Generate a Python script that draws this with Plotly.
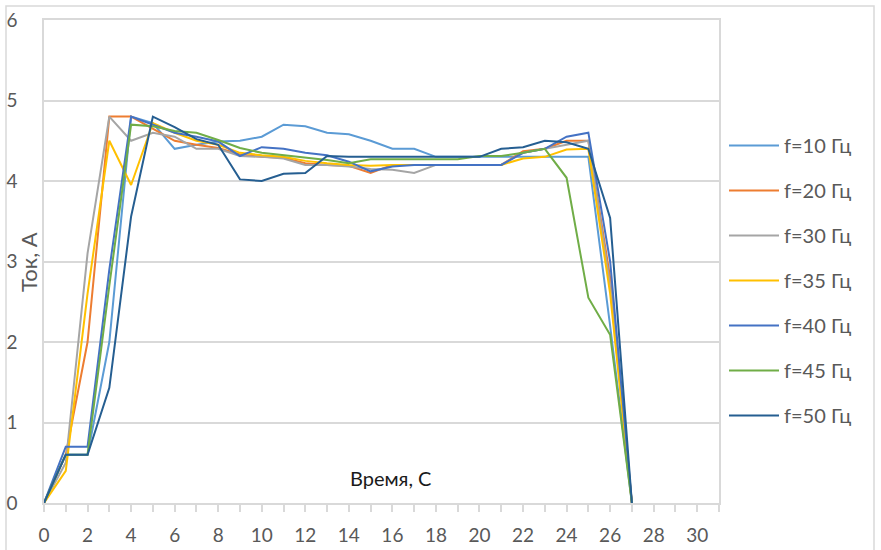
import plotly.graph_objects as go

time_s = list(range(0, 28))

f10 = [0, 0.6, 0.6, 2.0, 4.8, 4.72, 4.4, 4.45, 4.49, 4.5, 4.55, 4.7, 4.68, 4.6, 4.58, 4.5, 4.4, 4.4, 4.3, 4.3, 4.3, 4.3, 4.3, 4.3, 4.3, 4.3, 2.2, 0]
f20 = [0, 0.6, 2.0, 4.8, 4.8, 4.65, 4.5, 4.45, 4.41, 4.33, 4.3, 4.29, 4.22, 4.2, 4.19, 4.1, 4.2, 4.2, 4.2, 4.2, 4.2, 4.2, 4.37, 4.4, 4.5, 4.5, 2.8, 0]
f30 = [0, 0.5, 3.1, 4.8, 4.5, 4.6, 4.55, 4.4, 4.4, 4.31, 4.3, 4.28, 4.2, 4.2, 4.18, 4.15, 4.14, 4.1, 4.2, 4.2, 4.2, 4.2, 4.35, 4.4, 4.45, 4.5, 2.7, 0]
f35 = [0, 0.4, 2.6, 4.5, 3.95, 4.72, 4.6, 4.5, 4.45, 4.35, 4.32, 4.3, 4.25, 4.22, 4.2, 4.19, 4.2, 4.2, 4.2, 4.2, 4.2, 4.2, 4.28, 4.3, 4.39, 4.4, 2.6, 0]
f40 = [0, 0.7, 0.7, 2.9, 4.8, 4.7, 4.6, 4.55, 4.49, 4.31, 4.42, 4.4, 4.35, 4.32, 4.24, 4.12, 4.18, 4.2, 4.2, 4.2, 4.2, 4.2, 4.35, 4.4, 4.55, 4.6, 3.0, 0]
f45 = [0, 0.6, 0.6, 2.7, 4.7, 4.68, 4.62, 4.6, 4.51, 4.41, 4.35, 4.32, 4.29, 4.26, 4.22, 4.27, 4.27, 4.27, 4.27, 4.27, 4.31, 4.31, 4.35, 4.4, 4.04, 2.55, 2.09, 0]
f50 = [0, 0.6, 0.6, 1.43, 3.56, 4.8, 4.67, 4.52, 4.45, 4.02, 4.0, 4.09, 4.1, 4.31, 4.3, 4.3, 4.3, 4.3, 4.3, 4.3, 4.3, 4.4, 4.42, 4.5, 4.48, 4.4, 3.54, 0]

series_names = ["f=10 Гц", "f=20 Гц", "f=30 Гц", "f=35 Гц", "f=40 Гц", "f=45 Гц", "f=50 Гц"]
series_values = [f10, f20, f30, f35, f40, f45, f50]
colors = ["#5B9BD5", "#ED7D31", "#A5A5A5", "#FFC000", "#4472C4", "#70AD47", "#255E91"]

x_tickvals = list(range(0, 32))
x_ticktext = [str(v) if v % 2 == 0 else "" for v in x_tickvals]

FONT = "Lato"
GRID = "#D9D9D9"
TXT = "#595959"

fig = go.Figure()
for name, vals, col in zip(series_names, series_values, colors):
    fig.add_trace(go.Scatter(x=time_s, y=vals, mode="lines", name=name,
                             legendgroup=name,
                             line=dict(color=col, width=2)))

W, H = 881, 550
L, R, T, B = 44, 162, 20, 47
pw, ph = W - L - R, H - T - B

def px(xp):
    return (xp - L) / pw

def py(yp):
    return (H - B - yp) / ph

fig.update_layout(
    width=W, height=H,
    margin=dict(l=L, r=R, t=T, b=B, autoexpand=False),
    paper_bgcolor="white", plot_bgcolor="white",
    font=dict(family=FONT, size=18, color=TXT),
    showlegend=True,
    legend=dict(x=px(724), y=py(126), xanchor="left", yanchor="top",
                font=dict(family=FONT, size=20, color=TXT),
                tracegroupgap=16, itemwidth=50, traceorder="grouped",
                bgcolor="rgba(0,0,0,0)"),
    xaxis=dict(range=[0, 31], tickvals=x_tickvals, ticktext=x_ticktext,
               showgrid=False, zeroline=False, automargin=False,
               showline=True, mirror=True, linecolor=GRID, linewidth=1.5,
               ticks="outside", ticklen=7, tickcolor=GRID, tickwidth=1.5,
               ticklabelstandoff=7,
               tickfont=dict(family=FONT, size=19, color=TXT)),
    yaxis=dict(range=[0, 6], dtick=1, tick0=0, automargin=False,
               showgrid=True, gridcolor=GRID, gridwidth=1.5, zeroline=False,
               showline=True, mirror=True, linecolor=GRID, linewidth=1.5,
               ticks="", ticklabelstandoff=21,
               tickfont=dict(family=FONT, size=19, color=TXT)),
)

fig.add_shape(type="rect", xref="paper", yref="paper",
              x0=px(6), x1=px(874), y0=py(553), y1=py(6),
              line=dict(color=GRID, width=1.5), layer="below")

fig.add_annotation(text="Ток, А", xref="paper", yref="paper",
                   x=px(28), y=py(262), xanchor="center", yanchor="middle",
                   textangle=-90, showarrow=False,
                   font=dict(family=FONT, size=22, color=TXT))
fig.add_annotation(text="Время, С", xref="paper", yref="paper",
                   x=px(390), y=py(478), xanchor="center", yanchor="middle",
                   showarrow=False,
                   font=dict(family=FONT, size=20, color="#1a1a1a"))

fig.write_html("out.html")
